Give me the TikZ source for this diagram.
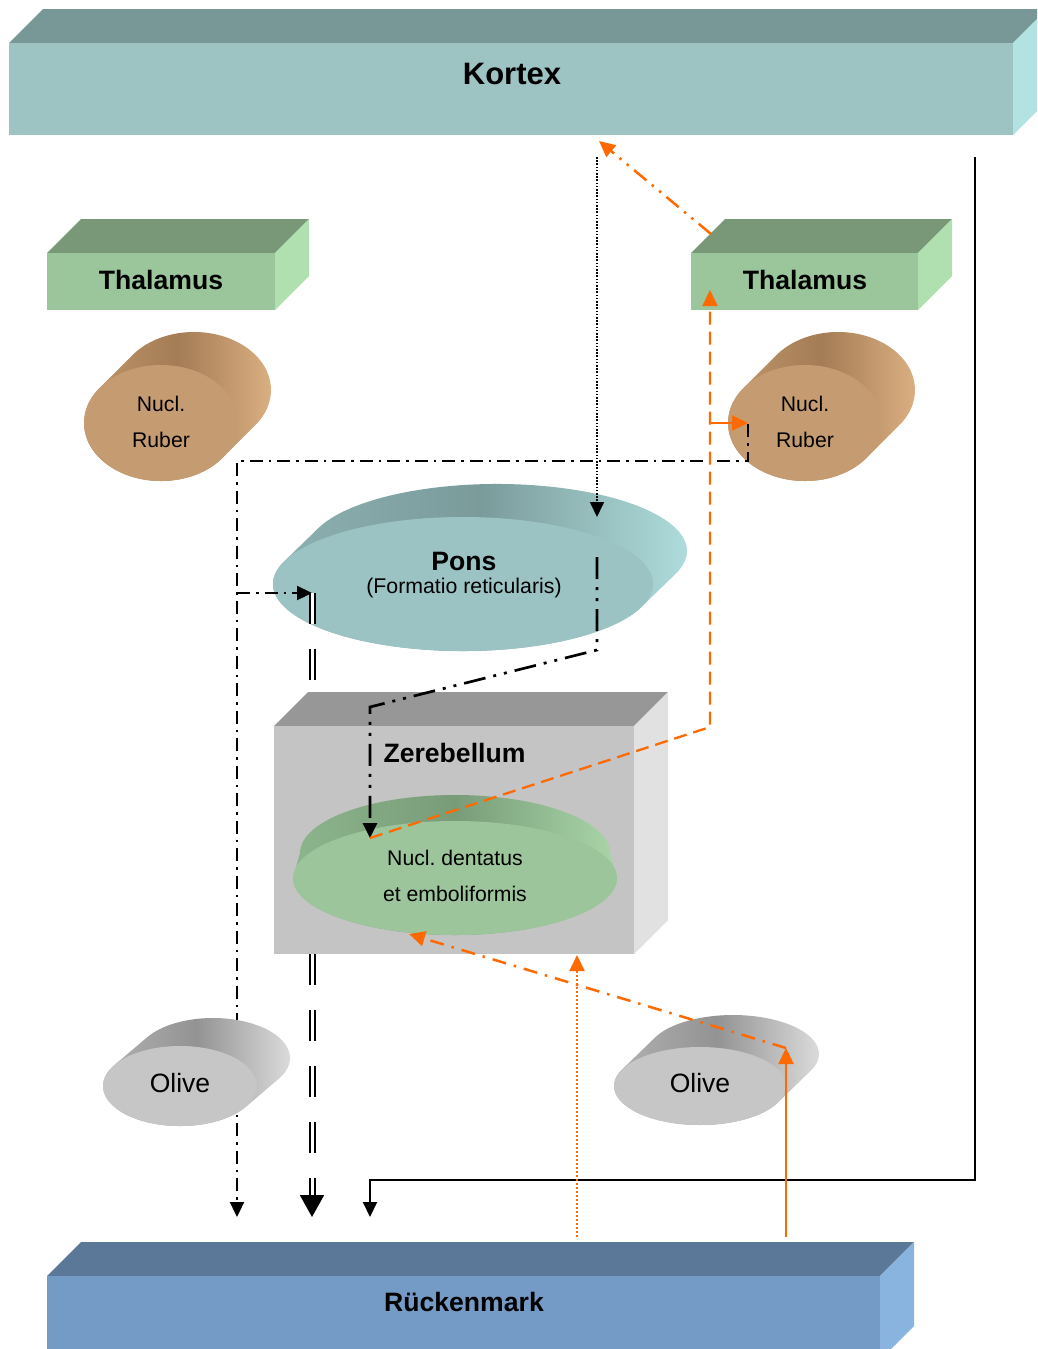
\documentclass[tikz,border=0pt]{standalone}
\usepackage{fontspec}
\setmainfont{Liberation Sans}
\usetikzlibrary{arrows.meta}

% face colours of the solids
\definecolor{kxF}{HTML}{9DC3C3}\definecolor{kxT}{HTML}{789898}\definecolor{kxR}{HTML}{B2E2E2}
\definecolor{thF}{HTML}{9BC59B}\definecolor{thT}{HTML}{789878}\definecolor{thR}{HTML}{B0E0B0}
\definecolor{rmF}{HTML}{749BC6}\definecolor{rmT}{HTML}{5B7898}\definecolor{rmR}{HTML}{8AB4E0}
\definecolor{zbF}{HTML}{C4C4C4}\definecolor{zbT}{HTML}{979797}\definecolor{zbR}{HTML}{E1E1E1}
\definecolor{rbF}{HTML}{C59C72}\definecolor{rbA}{HTML}{C39A6F}\definecolor{rbB}{HTML}{A47C55}\definecolor{rbC}{HTML}{E0B486}
\definecolor{pnF}{HTML}{9CC3C3}\definecolor{pnA}{HTML}{8FB3B3}\definecolor{pnB}{HTML}{7B9B9B}\definecolor{pnC}{HTML}{B4E3E3}
\definecolor{dnF}{HTML}{9CC59C}\definecolor{dnA}{HTML}{8DB58D}\definecolor{dnB}{HTML}{789C78}\definecolor{dnC}{HTML}{A9D6A9}
\definecolor{olF}{HTML}{C6C6C6}\definecolor{olA}{HTML}{B5B5B5}\definecolor{olB}{HTML}{939393}\definecolor{olC}{HTML}{E3E3E3}
\definecolor{orng}{HTML}{FF6A00}

% a box seen from the front: x1 y1 x2 y2 depth front top right
\newcommand{\drawsolidbox}[8]{%
  \fill[#7] (#1,#2) -- (#1+#5,#2-#5) -- (#3+#5,#2-#5) -- (#3,#2) -- cycle;
  \fill[#8] (#3,#2) -- (#3+#5,#2-#5) -- (#3+#5,#4-#5) -- (#3,#4) -- cycle;
  \fill[#6] (#1,#2) rectangle (#3,#4);
}

\begin{document}
\frenchspacing
\begin{tikzpicture}[x=1pt,y=-1pt,
  bigbold/.style={font=\fontsize{26.6}{30}\selectfont\bfseries},
  lbl/.style={font=\fontsize{21.2}{36}\selectfont, align=center},
  tipB/.style={-{Triangle[length=15pt,width=14pt]}},
  tipO/.style={-{Triangle[length=16pt,width=15pt]}},
  blkdashdot/.style={draw=black, line width=2.3pt, dash pattern=on 13pt off 6pt on 2.5pt off 6pt},
  blkdashdotdot/.style={draw=black, line width=2.7pt, dash pattern=on 22pt off 8pt on 3pt off 8pt on 3pt off 8pt},
  blkdotted/.style={draw=black, line width=1.6pt, dash pattern=on 1.6pt off 1.6pt},
  blksolid/.style={draw=black, line width=1.9pt},
  dblline/.style={draw=black, line width=2pt, double=white, double distance=3pt, dash pattern=on 31pt off 25pt},
  ordashed/.style={draw=orng, line width=2.3pt, dash pattern=on 13pt off 7pt},
  ordashdotdot/.style={draw=orng, line width=2.5pt, dash pattern=on 16pt off 7pt on 2.5pt off 7pt on 2.5pt off 7pt},
  ordashdot/.style={draw=orng, line width=2.5pt, dash pattern=on 14pt off 8pt on 2.5pt off 8pt},
  ordotted/.style={draw=orng, line width=2.2pt, dash pattern=on 2pt off 2pt},
  orsolid/.style={draw=orng, line width=2.5pt},
]
\clip (0,0) rectangle (1037,1349);
\fill[white] (0,0) rectangle (1037,1349);

% ---- boxes
\drawsolidbox{9}{43}{1013}{135}{34}{kxF}{kxT}{kxR}
\drawsolidbox{47}{253}{275}{310}{34}{thF}{thT}{thR}
\drawsolidbox{691}{253}{918}{310}{34}{thF}{thT}{thR}
\drawsolidbox{47}{1276}{880}{1360}{34}{rmF}{rmT}{rmR}

% ---- nucleus ruber, left and right
\shade[left color=rbA, right color=rbC, middle color=rbB]
  (222.5,457.9) -- (255.5,424.9) arc[start angle=37,end angle=-143,x radius=77,y radius=58]
  -- (99.5,388.1) arc[start angle=217,end angle=37,x radius=77,y radius=58] -- cycle;
\fill[rbF] (161,423) ellipse[x radius=77,y radius=58];
\shade[left color=rbA, right color=rbC, middle color=rbB]
  (866.5,457.9) -- (899.5,424.9) arc[start angle=37,end angle=-143,x radius=77,y radius=58]
  -- (743.5,388.1) arc[start angle=217,end angle=37,x radius=77,y radius=58] -- cycle;
\fill[rbF] (805,423) ellipse[x radius=77,y radius=58];

% ---- pons
\shade[left color=pnA, right color=pnC, middle color=pnB]
  (641.5,606.9) -- (675.5,573.9) arc[start angle=20,end angle=-160,x radius=190,y radius=67]
  -- (284.5,561.1) arc[start angle=200,end angle=20,x radius=190,y radius=67] -- cycle;
\fill[pnF] (463,584) ellipse[x radius=190,y radius=67];

% ---- connector points
\coordinate (rubRo) at (748,424);
\coordinate (c461R) at (748,461);
\coordinate (c461L) at (237,461);
\coordinate (spinDD) at (237,1217);
\coordinate (ponsBranch) at (237,593);
\coordinate (ponsIn) at (312,593);
\coordinate (dblA) at (312,593);
\coordinate (dblB) at (312,700);
\coordinate (zerDbl) at (312,954);
\coordinate (dblEnd) at (312,1195);
\coordinate (dblTipStart) at (312,1185);
\coordinate (spinDbl) at (312,1217);
\coordinate (kxDot) at (597,157);
\coordinate (ponsTopIn) at (597,517);
\coordinate (ponsOut) at (597,557);
\coordinate (ponsLow) at (597,650);
\coordinate (zerTop) at (370,707);
\coordinate (dentIn) at (370,838);
\coordinate (kxSolid) at (975,157);
\coordinate (c1180R) at (975,1180);
\coordinate (c1180L) at (370,1180);
\coordinate (spinS) at (370,1217);
\coordinate (dentOut) at (370,838);
\coordinate (bendA) at (710,727);
\coordinate (thRin) at (710,290);
\coordinate (branchO) at (710,423);
\coordinate (rubRin) at (748,423);
\coordinate (thRtop) at (711,234);
\coordinate (kxIn) at (599,141);
\coordinate (olRout) at (786,1048);
\coordinate (dentBot) at (409,934);
\coordinate (spinOr) at (786,1237);
\coordinate (olRin) at (786,1048);
\coordinate (spinDot) at (577,1237);
\coordinate (zerBot) at (577,955);

% ---- nucleus ruber to spinal cord and pons (runs behind the olive)
\draw[blkdashdot, tipB] (rubRo) -- (c461R) -- (c461L) -- (spinDD);
\draw[blkdashdot, tipB] (ponsBranch) -- (ponsIn);

% ---- pons to spinal cord, passing behind the cerebellum
\draw[dblline] (dblA) -- (dblB);
\draw[line width=2pt, -{Triangle[length=22pt,width=24pt]}] (dblTipStart) -- (spinDbl);
\draw[dblline] (zerDbl) -- (dblEnd);

% ---- cerebellum with its nuclei
\drawsolidbox{274}{726}{634}{954}{34}{zbF}{zbT}{zbR}
\shade[left color=dnA, right color=dnC, middle color=dnB]
  (617,878) -- (610,853) arc[start angle=0,end angle=-180,x radius=155,y radius=58]
  -- (293,878) arc[start angle=180,end angle=0,x radius=162,y radius=57] -- cycle;
\fill[dnF] (455,878) ellipse[x radius=162,y radius=57];

% ---- olives
\shade[left color=olA, right color=olC, middle color=olB]
  (245.65,1106.9) -- (278.65,1078.9) arc[start angle=31.5,end angle=-148.5,x radius=77,y radius=40]
  -- (114.35,1065.1) arc[start angle=211.5,end angle=31.5,x radius=77,y radius=40] -- cycle;
\fill[olF] (180,1086) ellipse[x radius=77,y radius=40];
\shade[left color=olA, right color=olC, middle color=olB]
  (777.9,1102.5) -- (810.9,1070.5) arc[start angle=25,end angle=-155,x radius=86,y radius=39]
  -- (622.1,1069.5) arc[start angle=205,end angle=25,x radius=86,y radius=39] -- cycle;
\fill[olF] (700,1086) ellipse[x radius=86,y radius=39];

% ---- labels
\node[font=\fontsize{31}{34}\selectfont\bfseries] (kortex) at (512,74) {Kortex};
\node[bigbold] (thalL) at (161,280) {Thalamus};
\node[bigbold] (thalR) at (805,280) {Thalamus};
\node[lbl] (ruberL) at (161,422) {Nucl.\\Ruber};
\node[lbl] (ruberR) at (805,422) {Nucl.\\Ruber};
\node[bigbold] (pons) at (464,561) {Pons};
\node[font=\fontsize{21.3}{24}\selectfont] (ponsSub) at (464,588) {(Formatio reticularis)};
\node[bigbold, anchor=west] (zereb) at (380,753) {Zerebellum};
\node[lbl] (dentatus) at (455,876) {Nucl. dentatus\\et emboliformis};
\node[font=\fontsize{26.5}{30}\selectfont] (oliveL) at (180,1083) {Olive};
\node[font=\fontsize{26.5}{30}\selectfont] (oliveR) at (700,1083) {Olive};
\node[bigbold] (ruecken) at (464,1302) {Rückenmark};

% ---- black pathways
\draw[blkdotted, tipB] (kxDot) -- (ponsTopIn);
\draw[blkdashdotdot, tipB] (ponsOut) -- (ponsLow) -- (zerTop) -- (dentIn);
\draw[blksolid, tipB] (kxSolid) -- (c1180R) -- (c1180L) -- (spinS);

% ---- orange pathways
\draw[ordashed, tipO] (dentOut) -- (bendA) -- (thRin);
\draw[orsolid, line width=2.2pt, tipO] (branchO) -- (rubRin);
\draw[ordashdotdot, tipO] (thRtop) -- (kxIn);
\draw[ordashdot, tipO] (olRout) -- (dentBot);
\draw[orsolid, tipO] (spinOr) -- (olRin);
\draw[ordotted, tipO] (spinDot) -- (zerBot);
\end{tikzpicture}
\end{document}
